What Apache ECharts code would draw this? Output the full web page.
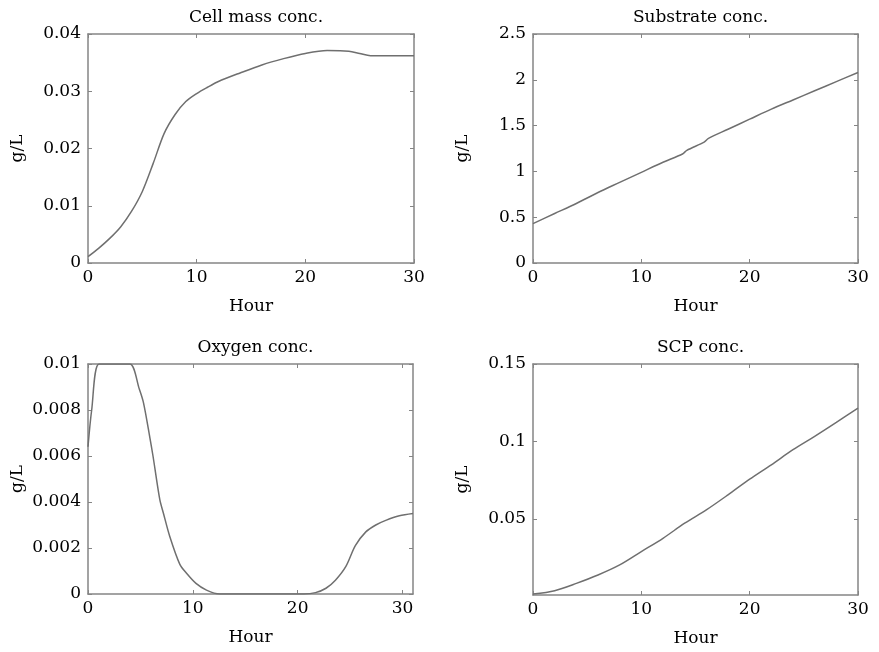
<!DOCTYPE html>
<html>
<head>
<meta charset="utf-8">
<script src="https://cdn.jsdelivr.net/npm/echarts@6/dist/echarts.min.js"></script>
<style>
  html, body { margin: 0; padding: 0; background: #fff; }
  #chart { width: 879px; height: 652px; }
</style>
</head>
<body>
<div id="chart"></div>
<script>
// values
const cellHours = [0, 1, 2, 3, 4, 5, 6, 7, 8, 9, 10, 11, 12, 14, 16, 18, 20, 22, 24, 25, 26, 28, 30];
const cellMass = [0.0011, 0.0026, 0.0043, 0.0063, 0.009, 0.0125, 0.0174, 0.0226, 0.0259, 0.0282, 0.0296, 0.0307,
  0.0317, 0.0332, 0.0346, 0.0357, 0.0366, 0.0371, 0.037, 0.0366, 0.0362, 0.0362, 0.0362];

const substrateHours = [0, 2, 4, 6, 8, 10, 12, 13.8, 14.2, 15.8, 16.2, 18, 20, 22, 24, 26, 28, 30];
const substrate = [0.43, 0.54, 0.65, 0.77, 0.88, 0.99, 1.1, 1.19, 1.23, 1.32, 1.36, 1.46, 1.57, 1.68, 1.78, 1.88, 1.98, 2.08];

const oxygenHours = [0, 0.35, 1.05, 2.5, 4.0, 4.9, 5.3, 5.9, 6.2, 6.85, 7.2, 7.8, 8.75, 9.4, 10.3, 11.3, 12.55, 15,
  20.6, 21.7, 22.7, 23.6, 24.6, 25.5, 26.5, 27.45, 28.4, 29.7, 31];
const oxygen = [0.0064, 0.008, 0.01, 0.01, 0.01, 0.0089, 0.0083, 0.0068, 0.006, 0.0041, 0.0035, 0.0025, 0.0013,
  0.0009, 0.00046, 0.00017, 0, 0, 0, 0.00006, 0.00025, 0.0006, 0.0012, 0.0021, 0.0027, 0.003, 0.0032, 0.0034, 0.0035];

const scpHours = [0, 2, 4, 6, 8, 10, 12, 14, 16, 18, 20, 22, 24, 26, 28, 30];
const scp = [0.0016, 0.0038, 0.0085, 0.0139, 0.0204, 0.029, 0.0376, 0.0473, 0.0559, 0.0656, 0.0757, 0.085,
  0.0947, 0.1033, 0.1123, 0.1216];

const titles = ["Cell mass conc.", "Substrate conc.", "Oxygen conc.", "SCP conc."];
const hourTicks = [0, 10, 20, 30];
const scpTicks = [0.05, 0.1, 0.15];

const FONT = "DejaVu Serif";
const FRAME = "#858585";
const SIZE = 17;

const chart = echarts.init(document.getElementById("chart"));

const panels = [
  { left: 88, top: 34, width: 326, height: 229, xMax: 30, yMin: 0, yMax: 0.04, yStep: 0.01, hours: cellHours, vals: cellMass },
  { left: 533, top: 34, width: 325, height: 229, xMax: 30, yMin: 0, yMax: 2.5, yStep: 0.5, hours: substrateHours, vals: substrate },
  { left: 88, top: 364, width: 325, height: 230, xMax: 31, yMin: 0, yMax: 0.01, yStep: 0.002, hours: oxygenHours, vals: oxygen },
  { left: 533, top: 364, width: 325, height: 231, xMax: 30, yMin: 0.001, yMax: 0.15, yCustom: scpTicks, hours: scpHours, vals: scp },
];

const grid = [], xAxis = [], yAxis = [], series = [], title = [];

panels.forEach((p, i) => {
  grid.push({ left: p.left, top: p.top, width: p.width, height: p.height, containLabel: false });

  title.push({
    text: titles[i],
    left: p.left + p.width / 2,
    top: p.top - 30,
    textAlign: "center",
    textStyle: { fontFamily: FONT, fontSize: SIZE, fontWeight: "normal", color: "#000" },
  });

  const line = { show: true, onZero: false, lineStyle: { color: FRAME, width: 1.5 } };
  const tick = { show: true, inside: true, length: 4, lineStyle: { color: FRAME, width: 1 }, customValues: hourTicks };

  // bottom axis with labels
  xAxis.push({
    gridIndex: i,
    type: "value",
    min: 0,
    max: p.xMax,
    name: "Hour",
    nameLocation: "middle",
    nameGap: 35,
    nameTextStyle: { fontFamily: FONT, fontSize: SIZE, color: "#000", verticalAlign: "top" },
    axisLine: line,
    axisTick: tick,
    splitLine: { show: false },
    axisLabel: { customValues: hourTicks, fontFamily: FONT, fontSize: SIZE, color: "#000", margin: 6 },
  });
  // top axis: frame + ticks only
  xAxis.push({
    gridIndex: i,
    type: "value",
    position: "top",
    min: 0,
    max: p.xMax,
    axisLine: line,
    axisTick: tick,
    splitLine: { show: false },
    axisLabel: { show: false },
  });

  const yTick = { show: true, inside: true, length: 4, lineStyle: { color: FRAME, width: 1 } };
  const yLeft = {
    gridIndex: i,
    type: "value",
    position: "left",
    min: p.yMin,
    max: p.yMax,
    name: "g/L",
    nameLocation: "middle",
    nameGap: 62,
    nameRotate: 90,
    nameTextStyle: { fontFamily: FONT, fontSize: SIZE, color: "#000" },
    axisLine: line,
    axisTick: Object.assign({}, yTick),
    splitLine: { show: false },
    axisLabel: { fontFamily: FONT, fontSize: SIZE, color: "#000", margin: 7 },
  };
  const yRight = {
    gridIndex: i,
    type: "value",
    position: "right",
    min: p.yMin,
    max: p.yMax,
    axisLine: line,
    axisTick: Object.assign({}, yTick),
    splitLine: { show: false },
    axisLabel: { show: false },
  };
  if (p.yCustom) {
    yLeft.axisLabel.customValues = p.yCustom;
    yLeft.axisTick.customValues = p.yCustom;
    yRight.axisTick.customValues = p.yCustom;
  } else {
    yLeft.interval = p.yStep;
    yRight.interval = p.yStep;
  }
  yAxis.push(yLeft, yRight);

  series.push({
    type: "line",
    xAxisIndex: i * 2,
    yAxisIndex: i * 2,
    data: p.hours.map((h, k) => [h, p.vals[k]]),
    smooth: 0.3,
    showSymbol: false,
    clip: true,
    lineStyle: { color: "#6f6f6f", width: 1.5 },
    silent: true,
  });
});

chart.setOption({
  animation: false,
  title: title,
  grid: grid,
  xAxis: xAxis,
  yAxis: yAxis,
  series: series,
});
</script>
</body>
</html>
